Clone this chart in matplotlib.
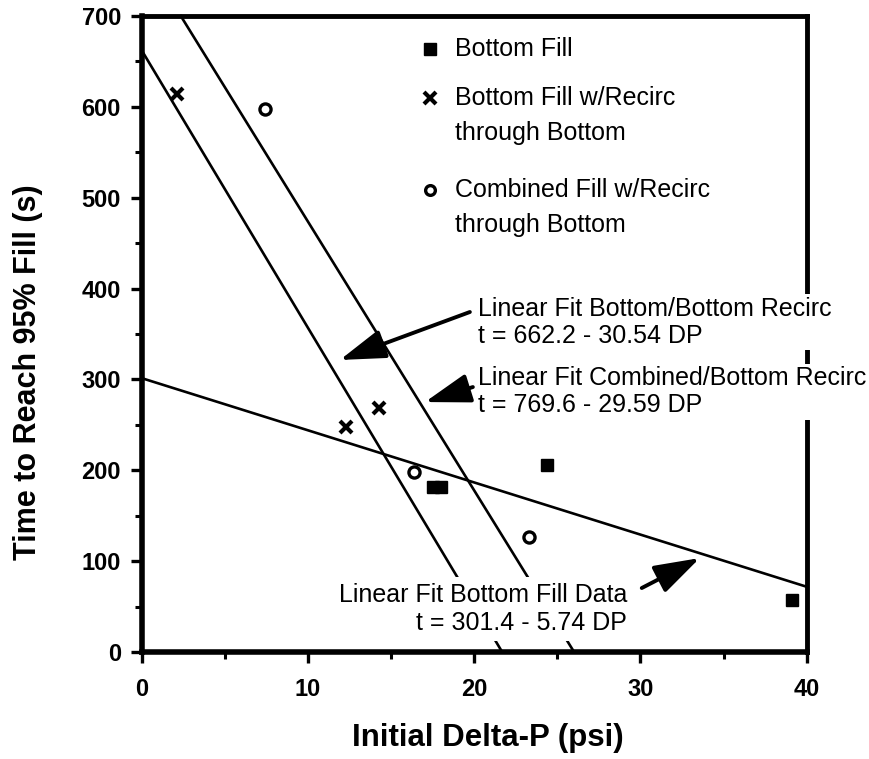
import matplotlib
matplotlib.use("Agg")
import matplotlib.pyplot as plt
import numpy as np
from matplotlib.patches import FancyArrowPatch

plt.rcParams['font.family'] = ['Liberation Sans', 'DejaVu Sans']

# ---- data ----
bottom_fill_dp = [17.5, 18.0, 24.35, 39.1]
bottom_fill_t = [182, 182, 206, 57]

recirc_dp = [2.1, 12.3, 14.3]
recirc_t = [614, 248, 268]

combined_dp = [7.4, 16.4, 23.3]
combined_t = [598, 198, 127]

# linear fits (intercept, slope) as printed on the chart
fit_bb = (662.2, -30.54)
fit_cb = (769.6, -29.59)
fit_bf = (301.4, -5.74)

legend_labels = ["Bottom Fill",
                 "Bottom Fill w/Recirc\nthrough Bottom",
                 "Combined Fill w/Recirc\nthrough Bottom"]

fit_texts = ["Linear Fit Bottom/Bottom Recirc\nt = 662.2 - 30.54 DP",
             "Linear Fit Combined/Bottom Recirc\nt = 769.6 - 29.59 DP",
             "Linear Fit Bottom Fill Data\nt = 301.4 - 5.74 DP"]

x_ticks = [0, 10, 20, 30, 40]
y_ticks = [0, 100, 200, 300, 400, 500, 600, 700]

# ---- figure ----
fig = plt.figure(figsize=(8.7, 7.59), dpi=100)
ax = fig.add_axes([0.1629, 0.1410, 0.7643, 0.8379])
ax.set_xlim(0, 40)
ax.set_ylim(0, 700)

# fit lines, drawn between x=0 (or the top of the axis) and y=0
def fit_line(fit, ymax=700):
    b, m = fit
    x0 = max(0.0, (ymax - b) / m)
    x1 = min(40.0, -b / m)
    xs = np.array([x0, x1])
    return xs, b + m * xs

for f in (fit_bb, fit_cb, fit_bf):
    xs, ys = fit_line(f)
    ax.plot(xs, ys, color='black', lw=1.9, zorder=2, clip_on=False)

# data points
ax.plot(bottom_fill_dp, bottom_fill_t, ls='none', marker='s', ms=8.5,
        mfc='black', mec='black', zorder=4)
ax.plot(recirc_dp, recirc_t, ls='none', marker='x', ms=9, mew=3,
        color='black', zorder=4)
ax.plot(combined_dp, combined_t, ls='none', marker='o', ms=8, mew=2.4,
        mfc='white', mec='black', zorder=4)

# manual legend (marker aligned with first line of each label)
leg_fs = 18
tr = ax.transAxes
ax.plot([0.4335], [0.948], transform=tr, marker='s', ms=8, mfc='black',
        mec='black', ls='none', zorder=5)
ax.plot([0.4335], [0.871], transform=tr, marker='x', ms=8, mew=3,
        color='black', ls='none', zorder=5)
ax.plot([0.4335], [0.726], transform=tr, marker='o', ms=7, mew=2.4,
        mfc='white', mec='black', ls='none', zorder=5)
leg_y = [0.948, 0.871, 0.726]
for lab, yy in zip(legend_labels, leg_y):
    lines = lab.split("\n")
    for i, ln in enumerate(lines):
        ax.text(0.471, yy - i * 0.055, ln, transform=tr, fontsize=leg_fs,
                ha='left', va='center', zorder=5)

# fit annotations (white boxes mask what lies beneath)
box = dict(facecolor='white', edgecolor='none', pad=2)
ax.text(20.22, 363, fit_texts[0], fontsize=leg_fs, ha='left',
        va='center', linespacing=1.15, zorder=6, bbox=box, clip_on=False)
ax.text(20.22, 286.5, fit_texts[1], fontsize=leg_fs, ha='left',
        va='center', linespacing=1.15, zorder=6, bbox=box, clip_on=False)
ax.text(29.19, 47.3, fit_texts[2], fontsize=leg_fs, ha='right',
        va='center', multialignment='right', linespacing=1.25, zorder=6,
        bbox=dict(facecolor='white', edgecolor='none', pad=4))

arrows = [((19.74, 374.2), (11.92, 321.4)),
          ((19.92, 291.6), (17.04, 275.1)),
          ((30.08, 70.4), (33.57, 103.4))]
for tail, head in arrows:
    a = FancyArrowPatch(tail, head, arrowstyle='-|>,head_length=1.4,head_width=0.45',
                        mutation_scale=20, lw=2.8, color='black', zorder=7,
                        shrinkA=0, shrinkB=0)
    ax.add_patch(a)

# axes styling
for s in ['left', 'bottom']:
    ax.spines[s].set_linewidth(4)
for s in ['top', 'right']:
    ax.spines[s].set_linewidth(3.5)
for s in ax.spines.values():
    s.set_zorder(3)

ax.set_xticks(x_ticks)
ax.set_yticks(y_ticks)
ax.set_xticks(np.arange(5, 40, 10), minor=True)
ax.set_yticks(np.arange(50, 700, 100), minor=True)
ax.tick_params(which='major', direction='out', length=8, width=2.4, pad=7,
               labelsize=17)
ax.tick_params(which='minor', direction='out', length=5, width=2.2)
ax.tick_params(axis='x', which='major', pad=11)
ax.tick_params(top=False, right=False, which='both')
for lbl in ax.get_xticklabels() + ax.get_yticklabels():
    lbl.set_fontweight('bold')

ax.set_xlabel("Initial Delta-P (psi)", fontsize=22.5, fontweight='bold')
ax.set_ylabel("Time to Reach 95% Fill (s)", fontsize=22, fontweight='bold')
ax.xaxis.set_label_coords(0.521, -0.135)
ax.xaxis.label.set_va('center')
ax.yaxis.set_label_coords(-0.171, 0.44)
ax.yaxis.label.set_va('center')

fig.savefig("out.png", dpi=100)
